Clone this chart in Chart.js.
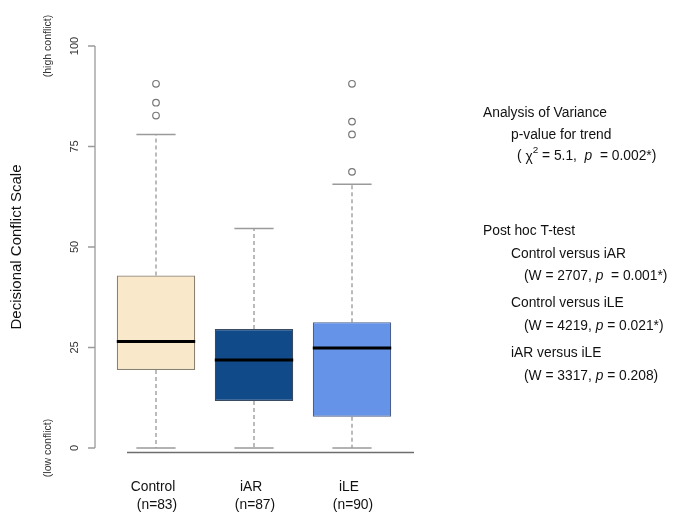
<!DOCTYPE html>
<html>
<head>
<meta charset="utf-8">
<script src="https://cdn.jsdelivr.net/npm/chart.js@4.4.1/dist/chart.umd.min.js"></script>
<style>
  html, body { margin: 0; padding: 0; background: #ffffff; }
  #wrap { width: 673px; height: 513px; position: relative; }
</style>
</head>
<body>
<div id="wrap"><canvas id="c" width="673" height="513"></canvas></div>
<script>
// ---- data ----
const categories = ['Control', 'iAR', 'iLE'];
const sampleSizes = [83, 87, 90];
const lowerWhisker = [0, 0, 0];
const q1 = [19.4, 11.7, 7.8];
const median = [26.5, 21.9, 24.9];
const q3 = [42.9, 29.6, 31.3];
const upperWhisker = [78.0, 54.6, 65.6];
const outliers = [[90.6, 85.9, 82.7], [], [90.6, 81.2, 78.0, 68.7]];
const yTicks = [0, 25, 50, 75, 100];
const yTitle = 'Decisional Conflict Scale';
const yHighNote = '(high conflict)';
const yLowNote = '(low conflict)';

const boxColors = ['#F9E8C9', '#104A89', '#6493E8'];
const FONT = '"Liberation Sans", Arial, Helvetica, sans-serif';

const outlierPoints = [];
categories.forEach((c, i) => outliers[i].forEach(v => outlierPoints.push({ x: c, y: v })));

function drawRich(ctx, x, y, segs, size) {
  let cx = x;
  ctx.textBaseline = 'middle';
  ctx.textAlign = 'left';
  segs.forEach(s => {
    const sz = s.sup ? size * 0.72 : size;
    ctx.font = (s.italic ? 'italic ' : '') + sz + 'px ' + FONT;
    const dy = s.sup ? -size * 0.38 : (s.sub ? size * 0.12 : 0);
    ctx.fillText(s.t, cx, y + dy);
    cx += ctx.measureText(s.t).width;
  });
}

const boxPlugin = {
  id: 'boxPlugin',
  beforeDatasetsDraw(chart) {
    const ctx = chart.ctx;
    const ys = chart.scales.y;
    const meta = chart.getDatasetMeta(0);
    ctx.save();
    categories.forEach((c, i) => {
      const bar = meta.data[i];
      const x = bar.x;
      const hw = bar.width / 2;
      // whiskers (dashed)
      ctx.strokeStyle = '#ababab';
      ctx.lineWidth = 1.6;
      ctx.setLineDash([4, 3]);
      ctx.beginPath();
      ctx.moveTo(x, ys.getPixelForValue(q3[i]));
      ctx.lineTo(x, ys.getPixelForValue(upperWhisker[i]));
      ctx.moveTo(x, ys.getPixelForValue(q1[i]));
      ctx.lineTo(x, ys.getPixelForValue(lowerWhisker[i]));
      ctx.stroke();
      ctx.setLineDash([]);
      // caps
      ctx.strokeStyle = '#9a9a9a';
      ctx.lineWidth = 1.6;
      ctx.beginPath();
      ctx.moveTo(x - hw / 2, ys.getPixelForValue(upperWhisker[i]));
      ctx.lineTo(x + hw / 2, ys.getPixelForValue(upperWhisker[i]));
      ctx.moveTo(x - hw / 2, ys.getPixelForValue(lowerWhisker[i]));
      ctx.lineTo(x + hw / 2, ys.getPixelForValue(lowerWhisker[i]));
      ctx.stroke();
    });
    ctx.restore();
  },
  afterDatasetsDraw(chart) {
    const ctx = chart.ctx;
    const ys = chart.scales.y;
    const meta = chart.getDatasetMeta(0);
    ctx.save();
    categories.forEach((c, i) => {
      const bar = meta.data[i];
      const x = bar.x;
      const hw = bar.width / 2;
      ctx.strokeStyle = '#000000';
      ctx.lineWidth = 3;
      ctx.beginPath();
      const ym = ys.getPixelForValue(median[i]);
      ctx.moveTo(x - hw, ym);
      ctx.lineTo(x + hw, ym);
      ctx.stroke();
    });
    ctx.restore();
  },
  afterDraw(chart) {
    const ctx = chart.ctx;
    const ys = chart.scales.y;
    const xs = chart.scales.x;
    const area = chart.chartArea;
    ctx.save();
    // y axis line and ticks
    const axX = area.left - 12;
    ctx.strokeStyle = '#9a9a9a';
    ctx.lineWidth = 1.3;
    ctx.beginPath();
    ctx.moveTo(axX, ys.getPixelForValue(yTicks[0]));
    ctx.lineTo(axX, ys.getPixelForValue(yTicks[yTicks.length - 1]));
    yTicks.forEach(t => {
      const py = ys.getPixelForValue(t);
      ctx.moveTo(axX, py);
      ctx.lineTo(axX - 7, py);
    });
    ctx.stroke();
    // tick labels (rotated)
    ctx.fillStyle = '#333333';
    ctx.font = '11px ' + FONT;
    ctx.textAlign = 'center';
    ctx.textBaseline = 'middle';
    yTicks.forEach(t => {
      const py = ys.getPixelForValue(t);
      ctx.save();
      ctx.translate(axX - 20, py);
      ctx.rotate(-Math.PI / 2);
      ctx.fillText(String(t), 0, 0);
      ctx.restore();
    });
    // notes
    ctx.font = '10.5px ' + FONT;
    [[yHighNote, yTicks[yTicks.length - 1]], [yLowNote, yTicks[0]]].forEach(([txt, v]) => {
      ctx.save();
      ctx.translate(axX - 47, ys.getPixelForValue(v));
      ctx.rotate(-Math.PI / 2);
      ctx.fillText(txt, 0, 0);
      ctx.restore();
    });
    // title
    ctx.fillStyle = '#111111';
    ctx.font = '15px ' + FONT;
    ctx.save();
    ctx.translate(17, ys.getPixelForValue(50));
    ctx.rotate(-Math.PI / 2);
    ctx.fillText(yTitle, 0, 0);
    ctx.restore();
    // baseline
    ctx.strokeStyle = '#6e6e6e';
    ctx.lineWidth = 1.3;
    ctx.beginPath();
    const by = ys.getPixelForValue(0) + 4.5;
    ctx.moveTo(area.left + 20, by);
    ctx.lineTo(area.right + 13, by);
    ctx.stroke();
    // x labels
    ctx.fillStyle = '#111111';
    ctx.font = '13.8px ' + FONT;
    ctx.textAlign = 'center';
    categories.forEach((c, i) => {
      const px = xs.getPixelForValue(i);
      ctx.fillText(c, px - 3, 487);
      ctx.fillText('(n=' + sampleSizes[i] + ')', px + 1, 505);
    });
    // right panel text
    ctx.fillStyle = '#111111';
    const S = 13.8;
    drawRich(ctx, 483, 113, [{ t: 'Analysis of Variance' }], S);
    drawRich(ctx, 511, 135, [{ t: 'p-value for trend' }], S);
    drawRich(ctx, 517, 156, [{ t: '( ' }, { t: 'χ', sub: true }, { t: '2', sup: true }, { t: ' = 5.1,  ' }, { t: 'p', italic: true }, { t: '  = 0.002*)' }], S);
    drawRich(ctx, 483, 231, [{ t: 'Post hoc T-test' }], S);
    drawRich(ctx, 511, 254, [{ t: 'Control versus iAR' }], S);
    drawRich(ctx, 524, 276, [{ t: '(W = 2707, ' }, { t: 'p', italic: true }, { t: '  = 0.001*)' }], S);
    drawRich(ctx, 511, 303, [{ t: 'Control versus iLE' }], S);
    drawRich(ctx, 524, 326, [{ t: '(W = 4219, ' }, { t: 'p', italic: true }, { t: ' = 0.021*)' }], S);
    drawRich(ctx, 511, 353, [{ t: 'iAR versus iLE' }], S);
    drawRich(ctx, 524, 376, [{ t: '(W = 3317, ' }, { t: 'p', italic: true }, { t: ' = 0.208)' }], S);
    ctx.restore();
  }
};

new Chart(document.getElementById('c'), {
  type: 'bar',
  data: {
    labels: categories,
    datasets: [
      {
        type: 'bar',
        data: categories.map((c, i) => [q1[i], q3[i]]),
        backgroundColor: boxColors,
        borderColor: ['#8a8070', '#3a4a60', '#4a5f8a'],
        borderWidth: 1.2,
        borderSkipped: false,
        barPercentage: 0.8,
        categoryPercentage: 1.0,
        order: 2
      },
      {
        type: 'line',
        data: outlierPoints,
        showLine: false,
        pointRadius: 3.3,
        pointBorderWidth: 1.2,
        pointBorderColor: '#777777',
        pointBackgroundColor: 'rgba(255,255,255,0)',
        pointStyle: 'circle',
        order: 1
      }
    ]
  },
  options: {
    responsive: false,
    animation: false,
    devicePixelRatio: 1,
    layout: { padding: { left: 107, right: 272, top: 46, bottom: 65 } },
    plugins: { legend: { display: false }, tooltip: { enabled: false }, title: { display: false } },
    scales: {
      x: { type: 'category', offset: true, display: false, grid: { display: false } },
      y: { type: 'linear', min: 0, max: 100, display: false, grid: { display: false } }
    }
  },
  plugins: [boxPlugin]
});
</script>
</body>
</html>
